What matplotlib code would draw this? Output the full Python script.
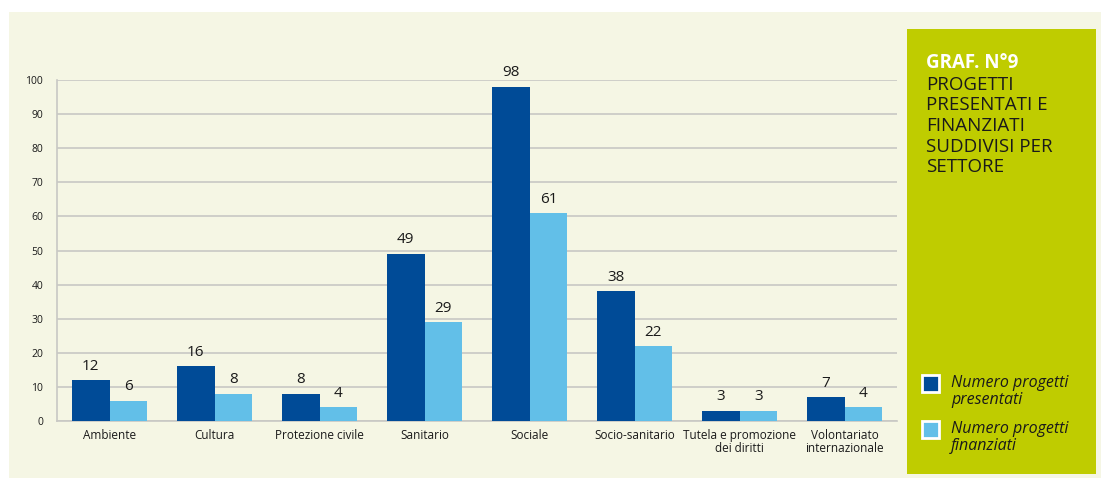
import matplotlib
matplotlib.use("Agg")
import matplotlib.pyplot as plt
from matplotlib.patches import Rectangle
import numpy as np

categories = ["Ambiente", "Cultura", "Protezione civile", "Sanitario", "Sociale",
              "Socio-sanitario", "Tutela e promozione\ndei diritti", "Volontariato\ninternazionale"]
presentati = [12, 16, 8, 49, 98, 38, 3, 7]
finanziati = [6, 8, 4, 29, 61, 22, 3, 4]
yticks = [0, 10, 20, 30, 40, 50, 60, 70, 80, 90, 100]

DARK = "#004B97"
LIGHT = "#62BFE8"
CREAM = "#F5F6E4"
GREEN = "#BFCC00"

plt.rcParams['font.family'] = ['Open Sans', 'DejaVu Sans']

W, H = 1101, 478
fig = plt.figure(figsize=(W / 100, H / 100), dpi=100)
fig.patch.set_facecolor("white")

def fx(x): return x / W
def fy(y): return 1 - y / H

# cream background panel
fig.patches.append(Rectangle((fx(9), fy(478)), fx(1101 - 9), (478 - 12) / H,
                             transform=fig.transFigure, facecolor=CREAM, edgecolor="none", zorder=-10))
# green side panel
fig.patches.append(Rectangle((fx(907), fy(474)), fx(1096 - 907), (474 - 29) / H,
                             transform=fig.transFigure, facecolor=GREEN, edgecolor="none", zorder=-9))

ax = fig.add_axes([fx(57), fy(421), fx(897 - 57), (421 - 80) / H])
ax.set_zorder(5)
ax.set_facecolor("none")
x = np.arange(len(categories))
bw = 0.36
b1 = ax.bar(x - bw / 2, presentati, bw, color=DARK, zorder=3)
b2 = ax.bar(x + bw / 2, finanziati, bw, color=LIGHT, zorder=3)
for bars, vals in ((b1, presentati), (b2, finanziati)):
    for r, v in zip(bars, vals):
        ax.text(r.get_x() + r.get_width() / 2, v + 1.9, str(v), ha="center", va="bottom",
                fontsize=11, color="#1a1a1a")

ax.set_xlim(-0.5, len(categories) - 0.5)
ax.set_ylim(0, 100)
ax.set_yticks(yticks)
ax.set_yticklabels([str(t) for t in yticks], fontsize=7.5, color="#1a1a1a")
ax.set_xticks(x)
ax.set_xticklabels(categories, fontsize=8.5, color="#1a1a1a", linespacing=0.95)
ax.tick_params(axis="y", length=0, pad=10)
ax.tick_params(axis="x", length=0, pad=6)
ax.grid(axis="y", color="#C8C8C4", linewidth=1.2, zorder=0)
ax.set_axisbelow(True)
for s in ["top", "right"]:
    ax.spines[s].set_visible(False)
ax.spines["left"].set_color("#C8C8C4")
ax.spines["left"].set_linewidth(1.2)
ax.spines["bottom"].set_color("#C8C8C4")
ax.spines["bottom"].set_linewidth(1.2)

# title in green panel
fig.text(fx(926), fy(68), "GRAF. N°9", fontsize=13.5, fontweight="bold", color="white",
         ha="left", va="baseline")
title_lines = ["PROGETTI", "PRESENTATI E", "FINANZIATI", "SUDDIVISI PER", "SETTORE"]
for i, line in enumerate(title_lines):
    fig.text(fx(926), fy(90 + 20.5 * i), line, fontsize=13.5, color="#1a1a1a",
             ha="left", va="baseline")

# legend
legend_items = [(["Numero progetti", "presentati"], DARK, 375), (["Numero progetti", "finanziati"], LIGHT, 421)]
for lines, col, ytop in legend_items:
    fig.patches.append(Rectangle((fx(922), fy(ytop + 17)), fx(17), 17 / H, transform=fig.transFigure,
                                 facecolor=col, edgecolor="white", linewidth=2, zorder=2))
    for j, t in enumerate(lines):
        fig.text(fx(951), fy(ytop + 12 + 17 * j), t, fontsize=11.5, fontstyle="italic",
                 color="#1a1a1a", ha="left", va="baseline")

fig.savefig("out.png", dpi=100, facecolor=fig.get_facecolor())
